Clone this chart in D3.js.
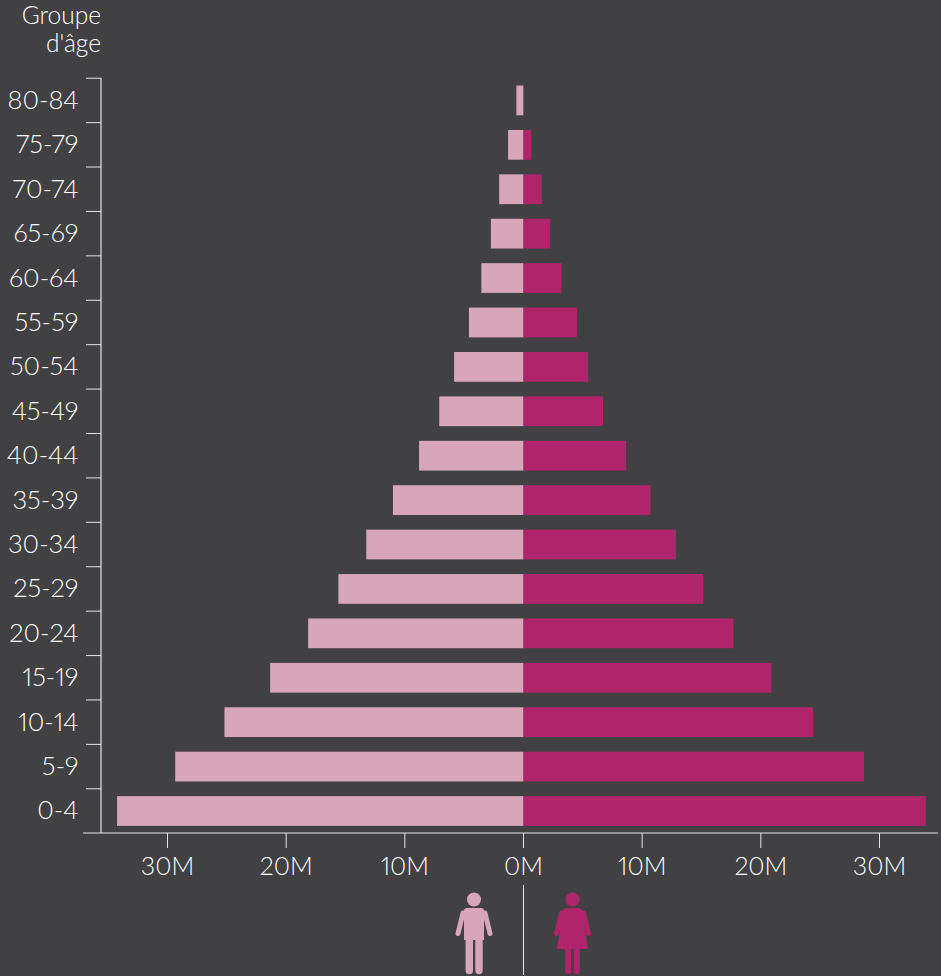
<!DOCTYPE html>
<html>
<head>
<meta charset="utf-8">
<script src="https://cdn.jsdelivr.net/npm/d3@7/dist/d3.min.js"></script>
<style>
  html, body { margin: 0; padding: 0; background: #414042; }
  svg { display: block; }
  text { font-family: Lato, "Open Sans", sans-serif; font-weight: 300; fill: #ffffff; font-variant-numeric: proportional-nums; font-feature-settings: "pnum" 1; }
</style>
</head>
<body>
<div id="app"></div>
<script>
const ageGroups = ["80-84","75-79","70-74","65-69","60-64","55-59","50-54","45-49","40-44","35-39","30-34","25-29","20-24","15-19","10-14","5-9","0-4"];
const men = [0.6,1.3,2.05,2.75,3.55,4.6,5.85,7.1,8.8,11.0,13.25,15.6,18.15,21.35,25.2,29.35,34.25];
const women = [0.05,0.65,1.55,2.25,3.2,4.5,5.45,6.7,8.65,10.7,12.85,15.15,17.7,20.9,24.4,28.7,33.9];
const xTicks = [-30,-20,-10,0,10,20,30];

const width = 941, height = 976;
const menColor = "#d8a6b9", womenColor = "#b0246c", axisColor = "#e6e6e6";

const svg = d3.select("#app").append("svg")
  .attr("width", width)
  .attr("height", height);

const x = d3.scaleLinear().domain([-30, 30]).range([167.5, 879.5]);
const y = d3.scaleBand().domain(ageGroups).range([78.2, 833.2]).paddingInner(0.33).paddingOuter(0.165);

// Bars
svg.append("g").selectAll("rect")
  .data(men)
  .join("rect")
  .attr("x", d => x(-d))
  .attr("y", (d, i) => y(ageGroups[i]))
  .attr("width", d => x(0) - x(-d))
  .attr("height", y.bandwidth())
  .attr("fill", menColor);

svg.append("g").selectAll("rect")
  .data(women)
  .join("rect")
  .attr("x", x(0))
  .attr("y", (d, i) => y(ageGroups[i]))
  .attr("width", d => x(d) - x(0))
  .attr("height", y.bandwidth())
  .attr("fill", womenColor);

// Y axis
const yStep = y.step();
const yAxis = svg.append("g");
yAxis.append("line")
  .attr("x1", 101).attr("x2", 101).attr("y1", 78).attr("y2", 833)
  .attr("stroke", axisColor).attr("stroke-width", 1.2);
yAxis.selectAll("line.tick")
  .data(ageGroups)
  .join("line")
  .attr("class", "tick")
  .attr("x1", 86).attr("x2", 101)
  .attr("y1", d => y(d) + y.bandwidth() / 2 - yStep / 2)
  .attr("y2", d => y(d) + y.bandwidth() / 2 - yStep / 2)
  .attr("stroke", axisColor).attr("stroke-width", 1);
yAxis.selectAll("text")
  .data(ageGroups)
  .join("text")
  .attr("x", 78.5)
  .attr("y", d => y(d) + y.bandwidth() / 2 + 8.5)
  .attr("text-anchor", "end")
  .attr("font-size", 25.5)
  .text(d => d);

// X axis
const xAxis = svg.append("g");
xAxis.append("line")
  .attr("x1", 83).attr("x2", 938).attr("y1", 833).attr("y2", 833)
  .attr("stroke", axisColor).attr("stroke-width", 1.2);
xAxis.selectAll("line.tick")
  .data(xTicks)
  .join("line")
  .attr("class", "tick")
  .attr("x1", d => x(d)).attr("x2", d => x(d))
  .attr("y1", 833).attr("y2", 848)
  .attr("stroke", axisColor).attr("stroke-width", 1);
xAxis.selectAll("text")
  .data(xTicks)
  .join("text")
  .attr("x", d => x(d))
  .attr("y", 875)
  .attr("text-anchor", "middle")
  .attr("font-size", 25)
  .text(d => Math.abs(d) + "M");

// Axis title
const title = svg.append("text").attr("text-anchor", "end").attr("font-size", 24.5);
title.append("tspan").attr("x", 101).attr("y", 24).text("Groupe");
title.append("tspan").attr("x", 101).attr("y", 52).text("d'âge");

// Divider below zero
svg.append("line")
  .attr("x1", x(0)).attr("x2", x(0)).attr("y1", 885).attr("y2", 975)
  .attr("stroke", axisColor).attr("stroke-width", 1);

// Arms are shared by both icons
function addArms(g, color) {
  g.selectAll("line")
    .data([-1, 1])
    .join("line")
    .attr("x1", s => s * 11).attr("y1", 913)
    .attr("x2", s => s * 16).attr("y2", 933.5)
    .attr("stroke", color)
    .attr("stroke-width", 5)
    .attr("stroke-linecap", "round");
}

// Man icon
const man = svg.append("g").attr("transform", "translate(474,0)").attr("fill", menColor);
man.append("circle").attr("cy", 899.5).attr("r", 7);
addArms(man, menColor);
man.append("path")
  .attr("d", "M-7,908 H7 Q10,908 10,911 V940 H8.7 V970.5 a3.7,3.7 0 0 1 -7.4,0 V940 H-1 V970.5 a3.7,3.7 0 0 1 -7.4,0 V940 H-10 V911 Q-10,908 -7,908 Z");

// Woman icon
const woman = svg.append("g").attr("transform", "translate(572.5,0)").attr("fill", womenColor);
woman.append("circle").attr("cy", 899.5).attr("r", 7);
addArms(woman, womenColor);
woman.append("path")
  .attr("d", "M-6,908 H6 Q9,908 9.5,911 L15.5,949 H7.3 V971 a3,3 0 0 1 -6,0 V949 H-1.3 V971 a3,3 0 0 1 -6,0 V949 H-15.5 L-9.5,911 Q-9,908 -6,908 Z");
</script>
</body>
</html>
